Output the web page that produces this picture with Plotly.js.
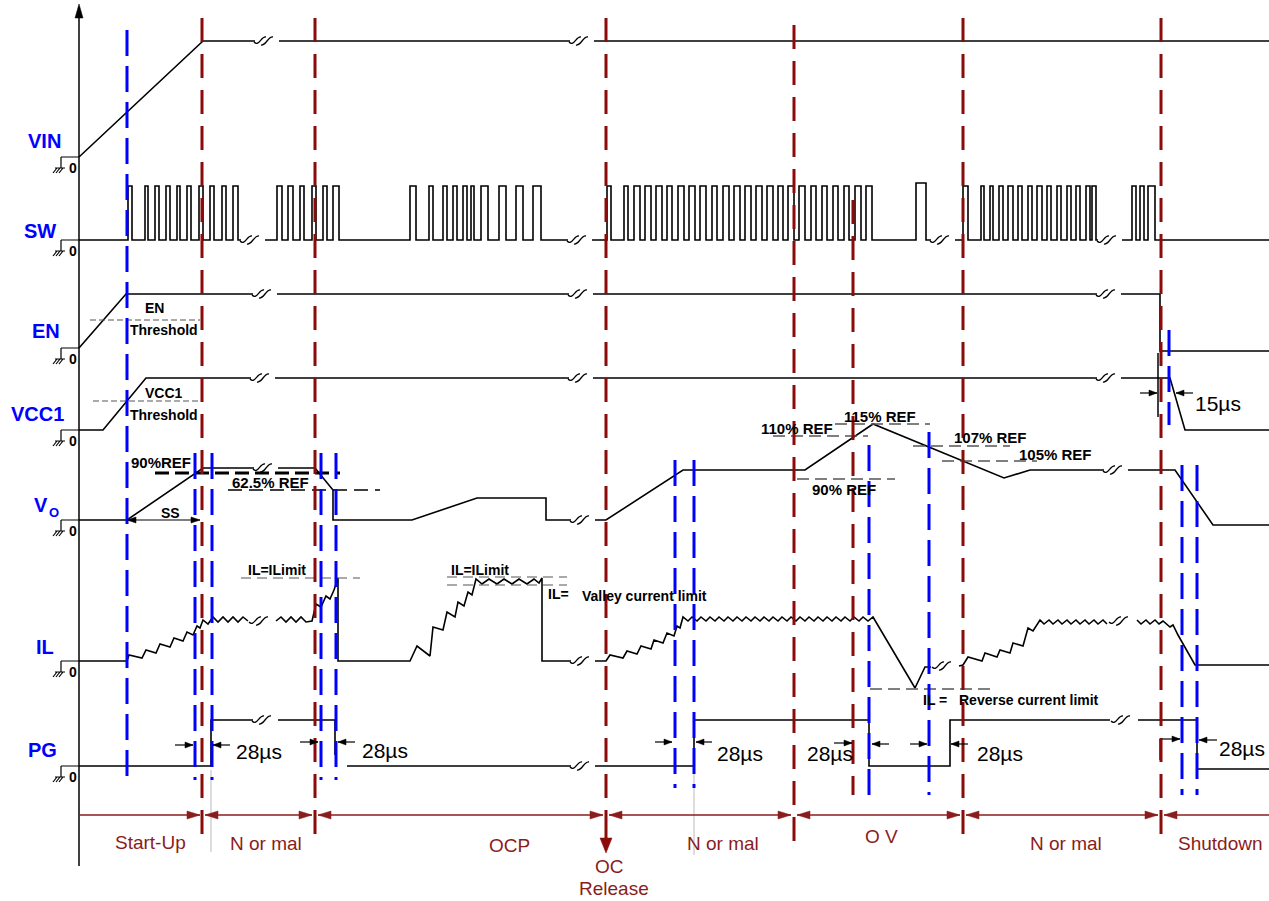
<!DOCTYPE html>
<html><head><meta charset="utf-8">
<script src="https://cdn.plot.ly/plotly-3.0.1.min.js"></script>
<style>html,body{margin:0;padding:0;background:#fff}#chart{width:1269px;height:901px}</style>
</head><body><div id="chart"></div>
<script>
// ================= DATA (time = horizontal units, level = height above row baseline) =================
const rowNames = ['VIN', 'SW', 'EN', 'VCC1', 'V', 'IL', 'PG'];
const voSub = 'O';

const vinT = [79, 203, 255, null, 279, 570, null, 594, 1269];
const vinL = [0, 116, 116, null, 116, 116, null, 116, 116];

const swRise = [128, 145, 155, 166, 177, 187, 199, 210, 222, 233,
  277, 288, 300, 312, 323, 333,
  410, 429, 443, 453, 463, 471, 481, 499, 516, 533,
  607, 624, 634, 645, 656, 667, 678, 689, 700, 712, 723, 734, 745, 756, 767, 778, 788, 799, 811, 822, 833, 844, 855, 866,
  916,
  963, 981, 990, 999, 1008, 1018, 1028, 1037, 1047, 1057, 1067, 1076, 1086, 1092,
  1132, 1140, 1148];
const swFall = [132, 148, 159, 170, 180, 191, 203, 214, 226, 238,
  282, 293, 304, 316, 327, 339,
  416, 433, 447, 457, 467, 474, 488, 506, 523, 541,
  611, 628, 640, 651, 662, 672, 684, 695, 706, 717, 729, 740, 751, 762, 773, 783, 794, 805, 816, 827, 838, 849, 861, 872,
  926,
  968, 984, 993, 1003, 1013, 1022, 1032, 1042, 1051, 1061, 1071, 1080, 1090, 1096,
  1136, 1144, 1155];
const swHigh = 54;
const swTallPulse = 916, swTallHigh = 57;
const swBreaks = [253, 580, 943, 1110];

const enT = [79, 126, 253, null, 277, 569, null, 593, 1097, null, 1121, 1160, 1160, 1269];
const enL = [0, 54, 54, null, 54, 54, null, 54, 54, null, 54, 54, -3, -3];

const vccT = [79, 103, 146, 251, null, 275, 569, null, 593, 1097, null, 1121, 1170, 1185, 1269];
const vccL = [0, 0, 52, 52, null, 52, 52, null, 52, 52, null, 52, 52, 0, 0];

const voT = [79, 127, 203, 254, null, 278, 315, 333, 333, 412, 477, 546, 546, 571, null, 595, 606, 683, 805, 873, 1004, 1030, 1104, null, 1128, 1175, 1213, 1269];
const voL = [0, 0, 52, 52, null, 52, 52, 30, 0, 0, 22, 22, 0, 0, null, 0, 0, 50, 50, 96, 42, 50, 50, null, 50, 50, -5, -5];

const ilT = [79, 127, 129, 142, 146, 156, 160, 170, 174, 183, 187, 193, 197, 200, 203,
  208, 213, 218, 223, 228, 233, 238, 243, 248, null,
  276, 281, 286, 291, 296, 301, 306, 312,
  316, 321, 326, 330, 334, 338, 338, 410,
  417, 430, 433, 443, 447, 455, 458, 464, 468, 472, 476,
  482, 489, 497, 504, 512, 519, 527, 534, 539, 542, 542, 571, null,
  595, 606, 610, 623, 627, 637, 641, 651, 654, 663, 667, 674, 677, 680, 683,
  688, 692, 697, 701, 706, 710, 715, 719, 724, 728, 733, 737, 742, 746, 751, 755, 760, 764, 769, 773, 778,
  782, 787, 791, 796, 800, 805, 809, 814, 818, 823, 827, 832, 836, 841, 845, 850, 854, 859, 863, 868, 873,
  915, 925, 931, null, 959, 963, 968, 982, 985, 997, 1000, 1010, 1013, 1023, 1028, 1033, 1040,
  1044, 1049, 1053, 1058, 1062, 1067, 1071, 1076, 1080, 1085, 1089, 1094, 1098, 1103, 1107, null,
  1137, 1141, 1146, 1150, 1155, 1159, 1163, 1170, 1173, 1178, 1195, 1269];
const ilL = [0, 0, 6, 3, 11, 8, 17, 14, 23, 20, 29, 26, 35, 33, 41,
  37, 44, 39, 44, 39, 44, 39, 44, 40, null,
  40, 44, 39, 44, 39, 44, 39, 40,
  57, 54, 65, 62, 71, 83, 0, 0,
  15, 5, 34, 31, 49, 44, 59, 55, 69, 66, 82,
  77, 82, 77, 82, 77, 82, 77, 82, 78, 83, 0, 0, null,
  0, 0, 6, 3, 10, 7, 15, 12, 21, 18, 28, 25, 35, 33, 44,
  40, 44, 40, 44, 40, 44, 40, 44, 40, 44, 40, 44, 40, 44, 40, 44, 40, 44, 40, 44, 40,
  44, 40, 44, 40, 44, 40, 44, 40, 44, 40, 44, 40, 44, 40, 44, 40, 44, 40, 44, 40, 44,
  -27, -6, -6, null, -5, -4, 4, 0, 8, 4, 11, 8, 18, 15, 33, 30, 41,
  37, 41, 37, 41, 37, 41, 37, 41, 37, 41, 37, 41, 37, 41, 37, null,
  41, 37, 41, 37, 41, 37, 40, 34, 36, 26, -4, -4];

const pgT = [79, 211, 211, 253, null, 278, 335, 335, null, 347, 571, null, 595, 694, 694, 869, 869, 950, 950, 1110, null, 1138, 1197, 1197, 1269];
const pgL = [0, 0, 46, 46, null, 46, 46, 11, null, 0, 0, null, 0, 0, 46, 46, 0, 0, 46, 46, null, 46, 46, -3, -3];

// time-axis breaks per row: [time, level]
const breaksVIN = [[267, 116], [582, 116]];
const breaksSW = [[253, 0], [580, 0], [943, 0], [1110, 0]];
const breaksEN = [[265, 54], [581, 54], [1109, 54]];
const breaksVCC = [[263, 52], [581, 52], [1109, 52]];
const breaksVO = [[266, 52], [583, 0], [1116, 50]];
const breaksIL = [[262, 40], [583, 0], [945, -5], [1122, 40]];
const breaksPG = [[265, 46], [583, 0], [1124, 46]];

// event markers (time)
const phaseBounds = [202, 315, 606, 794, 963, 1161];
const ovMarker = 853;
const blueMarkers = [127, 195, 212, 321, 336, 675, 694, 869, 929, 1169, 1182, 1197];
const phaseLabels = ['Start-Up', 'N or mal', 'OCP', 'N or mal', 'O V', 'N or mal', 'Shutdown'];
const delayLabels = ['28µs', '28µs', '28µs', '28µs', '28µs', '28µs'];
const refLabels = ['90%REF', '62.5% REF', '110% REF', '115% REF', '107% REF', '105% REF', '90% REF'];

// ================= LAYOUT (positions / styles) =================
const FONT = 'Liberation Sans, Arial, Helvetica, sans-serif';
const base = {VIN: 157, SW: 240, EN: 348, VCC1: 430, VO: 520, IL: 661, PG: 766};
const RED = '#8b0a0a', RED2 = '#8b1c1c', BLUE = '#0000ff';

function toY(levels, b) { return levels.map(v => v === null ? null : b - v); }
function sig(t, l, b) {
  return {x: t, y: toY(l, b), mode: 'lines', line: {color: '#000', width: 1.6}, hoverinfo: 'skip', showlegend: false, connectgaps: false};
}
function buildSW() {
  const ev = [];
  swRise.forEach((r, i) => ev.push({t: r, p: true, f: swFall[i]}));
  swBreaks.forEach(b => ev.push({t: b, p: false}));
  ev.sort((a, b) => a.t - b.t);
  const x = [79], l = [0];
  ev.forEach(e => {
    if (e.p) { const h = e.t === swTallPulse ? swTallHigh : swHigh; x.push(e.t, e.t, e.f, e.f); l.push(0, h, h, 0); }
    else { x.push(e.t - 12, null, e.t + 12); l.push(0, null, 0); }
  });
  x.push(1269); l.push(0);
  return sig(x, l, base.SW);
}

const traces = [
  sig(vinT, vinL, base.VIN),
  buildSW(),
  sig(enT, enL, base.EN),
  sig(vccT, vccL, base.VCC1),
  sig(voT, voL, base.VO),
  sig(ilT, ilL, base.IL),
  sig(pgT, pgL, base.PG)
];

const shapes = [];
function line(x0, y0, x1, y1, color, width, dash) {
  shapes.push({type: 'line', xref: 'x', yref: 'y', x0, y0, x1, y1, line: {color, width, dash: dash || 'solid'}, layer: 'above'});
}
function path(p, color, width) {
  shapes.push({type: 'path', xref: 'x', yref: 'y', path: p, line: {color, width}, layer: 'above'});
}
function tri(x, y, dir, len, half, color) {
  let p;
  if (dir === 'r') p = `M${x},${y} L${x - len},${y - half} L${x - len},${y + half} Z`;
  else if (dir === 'l') p = `M${x},${y} L${x + len},${y - half} L${x + len},${y + half} Z`;
  else if (dir === 'd') p = `M${x},${y} L${x - half},${y - len} L${x + half},${y - len} Z`;
  else p = `M${x},${y} L${x - half},${y + len} L${x + half},${y + len} Z`;
  shapes.push({type: 'path', xref: 'x', yref: 'y', path: p, fillcolor: color, line: {color, width: 0.5}, layer: 'above'});
}
function harrow(x0, x1, y, color, width, heads, len, half) {
  line(x0, y, x1, y, color, width);
  if (heads.includes('e')) tri(x1, y, x1 > x0 ? 'r' : 'l', len, half, color);
  if (heads.includes('s')) tri(x0, y, x1 > x0 ? 'l' : 'r', len, half, color);
}

// axis
line(79, 866, 79, 12, '#000', 1.5);
tri(79, 4, 'u', 14, 4, '#000');

// ground symbols
Object.values(base).forEach(b => {
  path(`M61,${b} L79,${b} M61,${b} L61,${b + 11} M55,${b + 11} L65,${b + 11} M57,${b + 11} L53,${b + 16} M60,${b + 11} L56,${b + 16} M63,${b + 11} L59,${b + 16}`, '#000', 1.2);
});

// break symbols
function brk(list, b) {
  list.forEach(([t, lv]) => {
    const cx = t, cy = b - lv;
    path(`M${cx - 13},${cy + 1} C${cx - 8},${cy + 6} ${cx - 6},${cy - 5} ${cx - 1},${cy - 4} M${cx - 6},${cy + 4} C${cx - 1},${cy + 5} ${cx + 1},${cy - 5} ${cx + 6},${cy - 4}`, '#000', 1.3);
  });
}
brk(breaksVIN, base.VIN); brk(breaksSW, base.SW); brk(breaksEN, base.EN); brk(breaksVCC, base.VCC1);
brk(breaksVO, base.VO); brk(breaksIL, base.IL); brk(breaksPG, base.PG);

// reference dashed lines
const GR = '#555';
line(90, 320, 200, 320, GR, 1, '6px,3px');
line(93, 401, 200, 401, GR, 1, '6px,3px');
line(155, 473, 340, 473, '#000', 3, '14px,6px');
line(228, 490, 380, 490, '#000', 1.3, '14px,7px');
line(773, 436, 868, 436, GR, 1.4, '12px,6px');
line(835, 424, 930, 424, GR, 1.4, '12px,6px');
line(913, 446, 1010, 446, GR, 1.4, '12px,6px');
line(942, 461, 1037, 461, GR, 1.4, '12px,6px');
line(797, 479, 895, 479, GR, 1.4, '12px,6px');
line(241, 578, 360, 578, GR, 1.2, '10px,6px');
line(447, 577, 567, 577, GR, 1.2, '10px,6px');
line(447, 585, 567, 585, GR, 1.2, '10px,6px');
line(870, 689, 990, 689, GR, 1.4, '12px,6px');

// gray guide verticals
line(211, 770, 211, 852, '#bbb', 1);
line(694, 770, 694, 855, '#bbb', 1);
// small black markers
line(1158, 353, 1158, 417, '#000', 1.5);
line(1160, 739, 1160, 760, '#000', 1.2);

// red phase boundaries
const redTop = [18, 18, 18, 25, 18, 18];
const redBot = [843, 843, 815, 847, 843, 843];
phaseBounds.forEach((x, i) => line(x, redTop[i], x, redBot[i], RED, 3, '24px,12px'));
line(ovMarker, 200, ovMarker, 795, RED, 3, '24px,12px');

// blue markers
const blueTop = [30, 453, 453, 453, 453, 460, 460, 445, 432, 330, 465, 465];
const blueBot = [778, 780, 780, 780, 780, 788, 788, 795, 795, 425, 795, 795];
blueMarkers.forEach((x, i) => line(x, blueTop[i], x, blueBot[i], BLUE, 3, '26px,10px'));

// small timing arrows (tail -> tip)
[[175, 193, 745], [230, 213, 745], [300, 318, 742], [355, 338, 742],
 [655, 672, 742], [712, 696, 742], [834, 852, 743], [889, 872, 744],
 [910, 927, 744], [968, 951, 744], [1162, 1180, 739], [1217, 1199, 740],
 [1140, 1157, 393], [1193, 1176, 393]].forEach(a => harrow(a[0], a[1], a[2], '#000', 1.2, 'e', 8, 3));
harrow(127, 200, 520, '#000', 1.2, 'se', 9, 3);
const segs = [[79, 200, 'e'], [205, 312, 'se'], [318, 603, 'se'], [609, 791, 'se'],
  [797, 960, 'se'], [966, 1158, 'se'], [1164, 1269, 's']];
segs.forEach(s => harrow(s[0], s[1], 815, RED2, 1.6, s[2], 13, 4));
line(606, 815, 606, 840, RED, 3);
tri(606, 853, 'd', 15, 6, RED);

// ================= annotations =================
const ann = [];
function txt(x, y, text, size, color, bold, anchor) {
  ann.push({x, y, xref: 'x', yref: 'y', text: bold ? '<b>' + text + '</b>' : text, showarrow: false,
    xanchor: anchor || 'center', yanchor: 'middle', font: {family: FONT, size, color: color || '#000'}});
}

const labelPos = [[44, 141], [40, 231], [46, 331], [37, 414], [41, 505], [45, 647], [42, 750]];
rowNames.forEach((n, i) => txt(labelPos[i][0], labelPos[i][1], n, 20, BLUE, true));
txt(54, 512, voSub, 13, BLUE, true);
Object.values(base).forEach(b => txt(73, b + 11, '0', 14, '#000', true));

txt(154, 308, 'EN', 14, '#000', true);
txt(164, 330, 'Threshold', 14, '#000', true);
txt(164, 393, 'VCC1', 14, '#000', true);
txt(164, 415, 'Threshold', 14, '#000', true);
txt(161, 462, refLabels[0], 15, '#000', true);
txt(270, 482, refLabels[1], 15, '#000', true);
txt(170, 513, 'SS', 14, '#000', true);
txt(797, 428, refLabels[2], 15, '#000', true);
txt(880, 416, refLabels[3], 15, '#000', true);
txt(990, 437, refLabels[4], 15, '#000', true);
txt(1055, 454, refLabels[5], 15, '#000', true);
txt(844, 489, refLabels[6], 15, '#000', true);

txt(277, 570, 'IL=ILimit', 14, '#000', true);
txt(480, 570, 'IL=ILimit', 14, '#000', true);
txt(558, 594, 'IL=', 14, '#000', true);
txt(644, 596, 'Valley current limit', 14, '#000', true);
txt(935, 700, 'IL =', 14, '#000', true);
txt(1029, 700, 'Reverse current limit', 14, '#000', true);

const delayPos = [[259, 751], [385, 750], [740, 753], [830, 753], [1000, 753], [1242, 748]];
delayLabels.forEach((t, i) => txt(delayPos[i][0], delayPos[i][1], t, 21, '#000', false));
txt(1218, 403, '15µs', 21, '#000', false);

const phasePos = [[150, 842], [266, 843], [509, 845], [723, 843], [881, 836], [1066, 843], [1220, 843]];
phaseLabels.forEach((t, i) => txt(phasePos[i][0], phasePos[i][1], t, 19, RED2, false));
txt(609, 866, 'OC', 19, RED2, false);
txt(614, 888, 'Release', 19, RED2, false);

const layout = {
  width: 1269, height: 901, autosize: false,
  margin: {l: 0, r: 0, t: 0, b: 0, pad: 0},
  paper_bgcolor: '#fff', plot_bgcolor: '#fff',
  xaxis: {range: [0, 1269], visible: false, fixedrange: true},
  yaxis: {range: [901, 0], visible: false, fixedrange: true},
  showlegend: false,
  shapes, annotations: ann
};
Plotly.newPlot('chart', traces, layout, {staticPlot: true, displayModeBar: false});
</script>
</body></html>
